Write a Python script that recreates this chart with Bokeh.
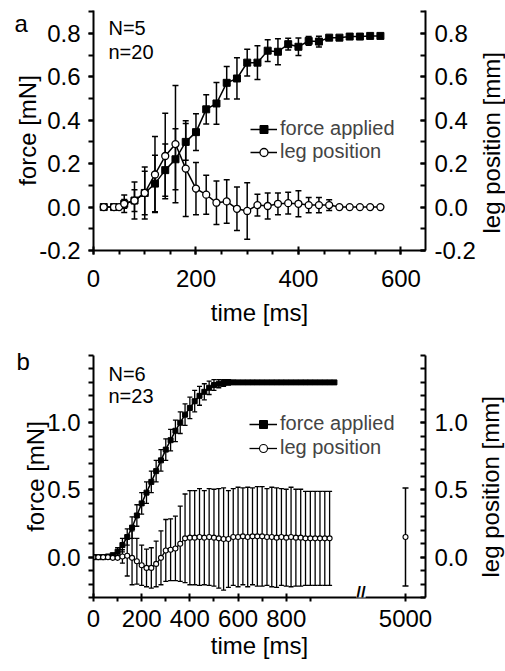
import math
from bokeh.plotting import figure
from bokeh.models import (Range1d, LinearAxis, FixedTicker, NumeralTickFormatter, ColumnDataSource,
                          Whisker, TeeHead, Label, Legend, LegendItem, Title)
from bokeh.layouts import column
from bokeh.embed import file_html
from bokeh.resources import INLINE

FONT = "Liberation Sans"

# ---------------- panel a data ----------------
TIME_A = [20, 40, 60, 80, 100, 120, 140, 160, 180, 200, 220, 240, 260, 280, 300, 320, 340, 360,
          380, 400, 420, 440, 460, 480, 500, 520, 540, 560]
FORCE_A = [0.0, 0.0, 0.015, 0.03, 0.065, 0.108, 0.17, 0.22, 0.30, 0.345, 0.45, 0.477, 0.572, 0.592,
           0.665, 0.665, 0.72, 0.715, 0.75, 0.738, 0.765, 0.762, 0.78, 0.78, 0.785, 0.785, 0.788, 0.788]
FORCE_A_SD = [0.0, 0.0, 0.02, 0.05, 0.1, 0.13, 0.12, 0.14, 0.085, 0.085, 0.067, 0.096, 0.075, 0.095,
              0.062, 0.078, 0.05, 0.06, 0.027, 0.04, 0.02, 0.025, 0.01, 0.005, 0.0, 0.0, 0.0, 0.0]
LEG_TIME_A = [20, 40, 50, 60, 80, 100, 120, 140, 160, 180, 200, 220, 240, 260, 280, 300, 320, 340,
              360, 380, 400, 420, 440, 460, 480, 500, 520, 540, 560]
LEG_A = [0.0, 0.0, 0.0, 0.015, 0.03, 0.065, 0.15, 0.235, 0.29, 0.177, 0.085, 0.057, 0.02, 0.026,
         -0.008, -0.018, 0.009, 0.005, 0.015, 0.018, 0.015, 0.009, 0.009, 0.009, 0.0, 0.0, 0.0, 0.0, 0.0]
LEG_A_SD = [0.0, 0.0, 0.0, 0.04, 0.085, 0.12, 0.175, 0.197, 0.27, 0.22, 0.12, 0.09, 0.1, 0.1,
            0.1, 0.13, 0.05, 0.06, 0.05, 0.05, 0.06, 0.035, 0.035, 0.025, 0.0, 0.0, 0.0, 0.0, 0.0]

# ---------------- panel b data ----------------
TIME_B = [0, 20, 40, 60, 80, 100, 120, 140, 160, 180, 200, 220, 240, 260, 280, 300, 320, 340, 360,
          380, 400, 420, 440, 460, 480, 500, 520, 540, 560, 580, 600, 620, 640, 660, 680, 700, 720,
          740, 760, 780, 800, 820, 840, 860, 880, 900, 920, 940, 960, 980, 1000]
FORCE_B = [0.0, 0.0, 0.0, 0.005, 0.015, 0.04, 0.09, 0.15, 0.22, 0.31, 0.40, 0.48, 0.56, 0.64, 0.72,
           0.80, 0.87, 0.94, 1.00, 1.06, 1.11, 1.16, 1.20, 1.23, 1.26, 1.28, 1.29, 1.295, 1.30,
           1.30, 1.30, 1.30, 1.30, 1.30, 1.30, 1.30, 1.30, 1.30, 1.30, 1.30, 1.30, 1.30, 1.30, 1.30,
           1.30, 1.30, 1.30, 1.30, 1.30, 1.30, 1.30]
FORCE_B_SD = [0.0, 0.0, 0.0, 0.0, 0.0, 0.03, 0.05, 0.06, 0.08, 0.08, 0.08, 0.08, 0.08, 0.08, 0.08,
              0.08, 0.08, 0.08, 0.08, 0.08, 0.08, 0.08, 0.07, 0.06, 0.05, 0.04, 0.03, 0.025, 0.02,
              0.015, 0.01, 0.0, 0.0, 0.0, 0.0, 0.0, 0.0, 0.0, 0.0, 0.0, 0.0, 0.0, 0.0, 0.0, 0.0,
              0.0, 0.0, 0.0, 0.0, 0.0, 0.0]
LEG_TIME_B = TIME_B[:50]
LEG_B = [0.0, 0.0, 0.0, 0.0, -0.005, -0.005, 0.005, 0.01, -0.005, -0.03, -0.06, -0.08, -0.08, -0.05,
         -0.005, 0.05, 0.055, 0.065, 0.10, 0.14, 0.145, 0.145, 0.15, 0.145, 0.15, 0.145, 0.14, 0.135,
         0.135, 0.15, 0.15, 0.155, 0.15, 0.155, 0.155, 0.155, 0.15, 0.15, 0.145, 0.15, 0.145, 0.15,
         0.145, 0.145, 0.14, 0.14, 0.14, 0.14, 0.14, 0.14]
LEG_B_SD = [0.0, 0.0, 0.0, 0.0, 0.0, 0.0, 0.05, 0.15, 0.2, 0.17, 0.15, 0.14, 0.15, 0.17, 0.2, 0.23,
            0.23, 0.24, 0.28, 0.33, 0.35, 0.35, 0.36, 0.35, 0.36, 0.36, 0.37, 0.38, 0.36, 0.36, 0.37,
            0.36, 0.37, 0.36, 0.37, 0.37, 0.36, 0.37, 0.37, 0.36, 0.36, 0.37, 0.36, 0.36, 0.35, 0.35,
            0.35, 0.35, 0.35, 0.35]
LATE_TIME_B = [5000]
LATE_LEG_B = [0.15]
LATE_LEG_B_SD = [0.365]

X_TICKS_A = [0, 200, 400, 600]
X_TICKS_B = [0, 200, 400, 600, 800]
Y_TICKS_A = [-0.2, 0.0, 0.2, 0.4, 0.6, 0.8]
Y_TICKS_B = [0.0, 0.5, 1.0]

# broken time axis in panel b: times after the break are shifted by this offset
LATE_OFFSET = 3705
BREAK_AT = 1110


def style_axis(ax, tin, tout, mtin, mtout, standoff, lab_standoff):
    ax.axis_line_width = 2
    ax.axis_line_color = "black"
    ax.major_tick_line_width = 2
    ax.minor_tick_line_width = 2
    ax.major_tick_line_color = "black"
    ax.minor_tick_line_color = "black"
    ax.major_tick_in = tin
    ax.major_tick_out = tout
    ax.minor_tick_in = mtin
    ax.minor_tick_out = mtout
    ax.major_label_standoff = standoff
    ax.axis_label_standoff = lab_standoff
    ax.major_label_text_font = FONT
    ax.major_label_text_font_size = "24px"
    ax.major_label_text_color = "black"
    ax.axis_label_text_font = FONT
    ax.axis_label_text_font_size = "24px"
    ax.axis_label_text_font_style = "normal"
    ax.axis_label_text_color = "black"


def whiskers(p, xs, ys, sds, size, width, y_range_name="default"):
    keep = [(x, y, s) for x, y, s in zip(xs, ys, sds) if s > 0]
    src = ColumnDataSource(dict(x=[k[0] for k in keep],
                                upper=[k[1] + k[2] for k in keep],
                                lower=[k[1] - k[2] for k in keep]))
    w = Whisker(source=src, base="x", upper="upper", lower="lower", dimension="height",
                line_color="black", line_width=width, level="underlay",
                upper_head=TeeHead(size=size, line_width=width, line_color="black"),
                lower_head=TeeHead(size=size, line_width=width, line_color="black"),
                y_range_name=y_range_name)
    p.add_layout(w)


def text(p, x, y, s, size):
    p.add_layout(Label(x=x, y=y, x_units="screen", y_units="screen", text=s,
                       text_font=FONT, text_font_size=size, text_color="black",
                       text_baseline="alphabetic", text_align="left"))


def panel_letter(p, s, offset, standoff):
    p.add_layout(Title(text=s, align="left", offset=offset, standoff=standoff,
                       text_font=FONT, text_font_size="24px", text_font_style="normal",
                       text_color="black"), "above")


def right_label(p, s, offset, standoff):
    # a vertical title (reads bottom-to-top) shifted over to the right-hand side
    p.add_layout(Title(text=s, align="left", vertical_align="bottom", offset=offset,
                       standoff=standoff, text_font=FONT, text_font_size="24px",
                       text_font_style="normal", text_color="black"), "left")


def make_minor(lo, hi, step):
    out = []
    v = lo
    while v <= hi + 1e-9:
        out.append(round(v, 6))
        v += step
    return out


# ================= panel a =================
pa = figure(width=505, height=340, x_range=Range1d(0, 648), y_range=Range1d(-0.2, 0.905),
            output_backend="svg", toolbar_location=None, min_border_left=93, min_border_right=80,
            min_border_top=10, min_border_bottom=90)
pa.outline_line_color = None
pa.xgrid.visible = False
pa.ygrid.visible = False
pa.extra_y_ranges = {"leg": Range1d(-0.2, 0.905)}

xa = pa.xaxis[0]
xa.ticker = FixedTicker(ticks=X_TICKS_A, minor_ticks=make_minor(0, 650, 50))
xa.axis_label = "time [ms]"
style_axis(xa, 4, 4, 0, 4, 15, 9)

ya = pa.yaxis[0]
ya.ticker = FixedTicker(ticks=Y_TICKS_A, minor_ticks=make_minor(-0.2, 0.9, 0.1))
ya.formatter = NumeralTickFormatter(format="0.0")
ya.axis_label = "force [mN]"
style_axis(ya, 0, 5, 0, 5, 8, -5)

ra = LinearAxis(y_range_name="leg")
ra.ticker = FixedTicker(ticks=Y_TICKS_A, minor_ticks=make_minor(-0.2, 0.9, 0.1))
ra.formatter = NumeralTickFormatter(format="0.0")
style_axis(ra, 5, 0, 5, 0, 9, 0)
pa.add_layout(ra, "right")

whiskers(pa, TIME_A, FORCE_A, FORCE_A_SD, 6, 1.5)
whiskers(pa, LEG_TIME_A, LEG_A, LEG_A_SD, 6, 1.5, "leg")
lfa = pa.line(TIME_A, FORCE_A, line_color="black", line_width=1.5)
sfa = pa.scatter(TIME_A, FORCE_A, marker="square", size=7, fill_color="black", line_color="black")
lla = pa.line(LEG_TIME_A, LEG_A, line_color="black", line_width=1.5, y_range_name="leg")
sla = pa.scatter(LEG_TIME_A, LEG_A, marker="circle", size=7, fill_color="white", line_color="black",
                 line_width=1.3, y_range_name="leg")

lega = Legend(items=[LegendItem(label="force applied", renderers=[lfa, sfa]),
                     LegendItem(label="leg position", renderers=[lla, sla])],
              location=(157, 87), border_line_color=None, background_fill_alpha=0,
              padding=0, margin=0, glyph_width=27, glyph_height=20, label_standoff=3,
              spacing=-8, label_text_font=FONT, label_text_font_size="20px")
pa.add_layout(lega)

panel_letter(pa, "a", -79, -52)
right_label(pa, "leg position [mm]", 17, -987)
text(pa, 15, 223, "N=5", "20px")
text(pa, 15, 199, "n=20", "20px")

# ================= panel b =================
pb = figure(width=505, height=331, x_range=Range1d(0, 1378), y_range=Range1d(-0.3, 1.5),
            output_backend="svg", toolbar_location=None, min_border_left=93, min_border_right=80,
            min_border_top=15, min_border_bottom=74)
pb.outline_line_color = None
pb.xgrid.visible = False
pb.ygrid.visible = False
pb.extra_y_ranges = {"leg": Range1d(-0.3, 1.5)}

late_x = [t - LATE_OFFSET for t in LATE_TIME_B]
xb = pb.xaxis[0]
xb.ticker = FixedTicker(ticks=X_TICKS_B + late_x, minor_ticks=[100, 300, 500, 700, 900])
xb.major_label_overrides = {lx: str(t) for lx, t in zip(late_x, LATE_TIME_B)}
xb.axis_label = "time [ms]"
style_axis(xb, 4, 4, 0, 4, 8, 2)

yb = pb.yaxis[0]
yb.ticker = FixedTicker(ticks=Y_TICKS_B, minor_ticks=make_minor(-0.3, 1.5, 0.1))
yb.formatter = NumeralTickFormatter(format="0.0")
yb.axis_label = "force [mN]"
style_axis(yb, 0, 5, 0, 5, 8, -5)

rb = LinearAxis(y_range_name="leg")
rb.ticker = FixedTicker(ticks=Y_TICKS_B, minor_ticks=make_minor(-0.3, 1.5, 0.1))
rb.formatter = NumeralTickFormatter(format="0.0")
style_axis(rb, 5, 0, 5, 0, 9, 0)
pb.add_layout(rb, "right")

whiskers(pb, TIME_B, FORCE_B, FORCE_B_SD, 5, 1.3)
whiskers(pb, LEG_TIME_B, LEG_B, LEG_B_SD, 5, 1.3, "leg")
whiskers(pb, late_x, LATE_LEG_B, LATE_LEG_B_SD, 6, 1.5, "leg")
lfb = pb.line(TIME_B, FORCE_B, line_color="black", line_width=1.5)
sfb = pb.scatter(TIME_B, FORCE_B, marker="square", size=5, fill_color="black", line_color="black")
llb = pb.line(LEG_TIME_B, LEG_B, line_color="black", line_width=1.3, y_range_name="leg")
slb = pb.scatter(LEG_TIME_B, LEG_B, marker="circle", size=5, fill_color="white", line_color="black",
                 line_width=1.1, y_range_name="leg")
pb.scatter(late_x, LATE_LEG_B, marker="circle", size=5, fill_color="white", line_color="black",
           line_width=1.1, y_range_name="leg")

legb = Legend(items=[LegendItem(label="force applied", renderers=[lfb, sfb]),
                     LegendItem(label="leg position", renderers=[llb, slb])],
              location=(156, 138), border_line_color=None, background_fill_alpha=0,
              padding=0, margin=0, glyph_width=28, glyph_height=20, label_standoff=3,
              spacing=1, label_text_font=FONT, label_text_font_size="20px")
pb.add_layout(legb)

# axis break mark
pb.add_layout(Label(x=BREAK_AT, y=-0.3, y_offset=-4, text="//", text_font=FONT,
                    text_font_size="17px", text_font_style="bold", text_align="center",
                    text_baseline="bottom", text_color="black", background_fill_color="white"))

panel_letter(pb, "b", -77, -38)
right_label(pb, "leg position [mm]", 20, -969)
text(pb, 15, 224, "N=6", "20px")
text(pb, 15, 202, "n=23", "20px")

layout = column(pa, pb)
open("out.html", "w").write(file_html(layout, INLINE))
